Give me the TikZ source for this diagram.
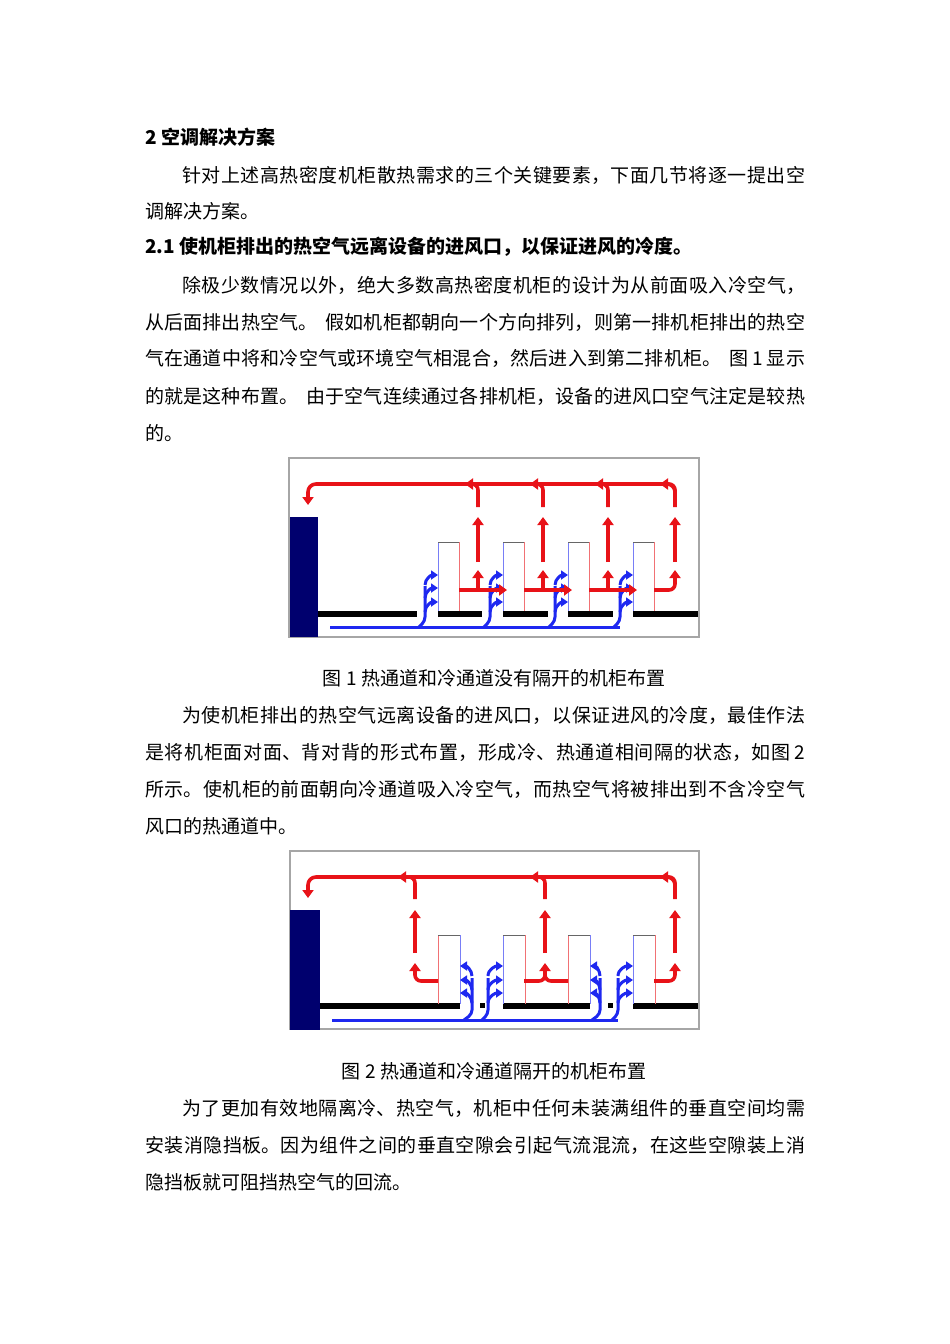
\documentclass[tikz,border=0pt]{standalone}
\usepackage{fontspec}
\setmainfont{Noto Sans CJK SC}
\usetikzlibrary{arrows.meta}
\XeTeXlinebreaklocale "zh"
\XeTeXlinebreakskip=0pt plus 3pt
\definecolor{hot}{RGB}{232,18,24}
\definecolor{cold}{RGB}{30,40,240}
\definecolor{navy}{RGB}{0,0,110}
\newcommand{\jl}[1]{\parbox{660pt}{\parfillskip=0pt\parindent=0pt #1}}
\newcommand{\ji}[1]{\parbox{623pt}{\parfillskip=0pt\parindent=0pt #1}}
\newcommand{\gapsp}{\hspace{8pt}}
\begin{document}
\begin{tikzpicture}[x=1pt,y=-1pt,
  txt/.style={anchor=west,inner sep=0pt,font=\fontsize{19}{22}\selectfont},
  hotl/.style={draw=hot,line width=3.6pt},
  hota/.style={hotl,-{Triangle[length=8pt,width=11pt]}},
  coldl/.style={draw=cold,line width=3pt},
  colda/.style={coldl,-{Triangle[length=7pt,width=9pt]}},
  floor/.style={draw=black,line width=6pt},
  frame/.style={draw=black!35,line width=1.2pt},
  rack/.style={line width=1pt}]
\useasboundingbox[fill=white] (0,0) rectangle (950,1344);
% text
\node[txt,font=\fontsize{19}{22}\selectfont\bfseries] (h1) at (145,137) {2 空调解决方案};
\node[txt] (p1a) at (182,175) {\ji{针对上述高热密度机柜散热需求的三个关键要素，下面几节将逐一提出空}};
\node[txt] (p1b) at (145,211) {调解决方案。};
\node[txt,font=\fontsize{19}{22}\selectfont\bfseries] (h2) at (145,247) {2.1 使机柜排出的热空气远离设备的进风口，以保证进风的冷度。};
\node[txt] (p2a) at (182,285) {\ji{除极少数情况以外，绝大多数高热密度机柜的设计为从前面吸入冷空气，}};
\node[txt] (p2b) at (145,322) {\jl{从后面排出热空气。\gapsp 假如机柜都朝向一个方向排列，则第一排机柜排出的热空}};
\node[txt] (p2c) at (145,358) {\jl{气在通道中将和冷空气或环境空气相混合，然后进入到第二排机柜。\gapsp 图\hspace{4pt}1\hspace{4pt}显示}};
\node[txt] (p2d) at (145,396) {\jl{的就是这种布置。\gapsp 由于空气连续通过各排机柜，设备的进风口空气注定是较热}};
\node[txt] (p2e) at (145,433) {的。};
\node[txt,anchor=center] (c1) at (494,678) {图 1 热通道和冷通道没有隔开的机柜布置};
\node[txt] (p3a) at (182,715) {\ji{为使机柜排出的热空气远离设备的进风口，以保证进风的冷度，最佳作法}};
\node[txt] (p3b) at (145,752) {\jl{是将机柜面对面、背对背的形式布置，形成冷、热通道相间隔的状态，如图\hspace{4pt}2}};
\node[txt] (p3c) at (145,789) {\jl{所示。使机柜的前面朝向冷通道吸入冷空气，而热空气将被排出到不含冷空气}};
\node[txt] (p3d) at (145,826) {风口的热通道中。};
\node[txt,anchor=center] (c2) at (494,1071) {图 2 热通道和冷通道隔开的机柜布置};
\node[txt] (p4a) at (182,1108) {\ji{为了更加有效地隔离冷、热空气，机柜中任何未装满组件的垂直空间均需}};
\node[txt] (p4b) at (145,1145) {\jl{安装消隐挡板。因为组件之间的垂直空隙会引起气流混流，在这些空隙装上消}};
\node[txt] (p4c) at (145,1182) {隐挡板就可阻挡热空气的回流。};
% ---------- Figure 1 ----------
\draw[frame] (289,458) rectangle (699,637);
\fill[navy] (290,517) rectangle (318,637);
\foreach \a/\b in {318/417,438/482,503/548,568/613,633/698}{\draw[floor] (\a,614) -- (\b,614);}
\foreach \r in {438,503,568,633}{
  \draw[rack,cold!60] (\r,611) -- (\r,542);
  \draw[rack,black!60] (\r,542) -- (\r+21,542);
  \draw[rack,hot!60] (\r+21,542) -- (\r+21,611);}
\draw[coldl,rounded corners=4pt] (330,627) -- (620,627);
\foreach \x in {425,490,555,620}{
  \draw[coldl,rounded corners=4pt] (\x-6,627) -- (\x,621) -- (\x,586);
  \foreach \yy in {575,588,602}{\draw[colda] (\x,\yy+10) to[out=90,in=180] (\x+13,\yy);}}
\foreach \a/\b in {459/507,524/572,589/637}{\draw[hota] (\a,590) -- (\b,590);}
\draw[hotl,rounded corners=6pt] (654,590) -- (675,590) -- (675,578);
\draw[hota] (675,582) -- (675,570);
\foreach \x in {478,543,608}{\draw[hota] (\x,590) -- (\x,570);}
\foreach \x in {478,543,608,675}{
  \draw[hota] (\x,562) -- (\x,517);
  \draw[hotl,rounded corners=6pt] (\x,507) -- (\x,484) -- (\x-10,484);}
\draw[hotl,rounded corners=8pt] (675,490) -- (675,484) -- (308,484) -- (308,495);
\draw[hota] (308,494) -- (308,505);
\foreach \x in {465,530,595,660}{\draw[hota] (\x+8,484) -- (\x,484);}
% ---------- Figure 2 ----------
\draw[frame] (290,851) rectangle (699,1029);
\fill[navy] (290,910) rectangle (320,1030);
\foreach \a/\b in {320/460,503/590,633/698}{\draw[floor] (\a,1006) -- (\b,1006);}
\fill (480,1003) rectangle (485,1008);
\fill (608,1003) rectangle (613,1008);
\foreach \r/\lc/\rc in {438/hot/cold,503/cold/hot,568/hot/cold,633/cold/hot}{
  \draw[rack,\lc!60] (\r,1004) -- (\r,935);
  \draw[rack,black!60] (\r,935) -- (\r+22,935);
  \draw[rack,\rc!60] (\r+22,935) -- (\r+22,1004);}
\draw[coldl] (332,1020) -- (618,1020);
\foreach \x/\t in {472/460,600/590}{
  \draw[coldl,rounded corners=4pt] (\x-8,1020) -- (\x,1014) -- (\x,978);
  \foreach \yy in {966,980,993}{\draw[colda] (\x,\yy+10) to[out=90,in=0] (\t,\yy);}}
\foreach \x/\t in {488/503,618/633}{
  \draw[coldl,rounded corners=4pt] (\x-6,1020) -- (\x,1014) -- (\x,978);
  \foreach \yy in {966,980,993}{\draw[colda] (\x,\yy+10) to[out=90,in=180] (\t,\yy);}}
\draw[hotl,rounded corners=6pt] (438,981) -- (415,981) -- (415,972);
\draw[hota] (415,975) -- (415,963);
\draw[hotl,rounded corners=6pt] (524,981) -- (545,981) -- (545,972);
\draw[hotl,rounded corners=6pt] (568,981) -- (545,981) -- (545,972);
\draw[hota] (545,975) -- (545,963);
\draw[hotl,rounded corners=6pt] (654,981) -- (675,981) -- (675,972);
\draw[hota] (675,975) -- (675,963);
\foreach \x in {415,545,675}{
  \draw[hota] (\x,953) -- (\x,910);
  \draw[hotl,rounded corners=6pt] (\x,899) -- (\x,877) -- (\x-10,877);}
\draw[hotl,rounded corners=8pt] (675,883) -- (675,877) -- (308,877) -- (308,888);
\draw[hota] (308,887) -- (308,898);
\foreach \x in {398,530,660}{\draw[hota] (\x+8,877) -- (\x,877);}
\end{tikzpicture}
\end{document}
